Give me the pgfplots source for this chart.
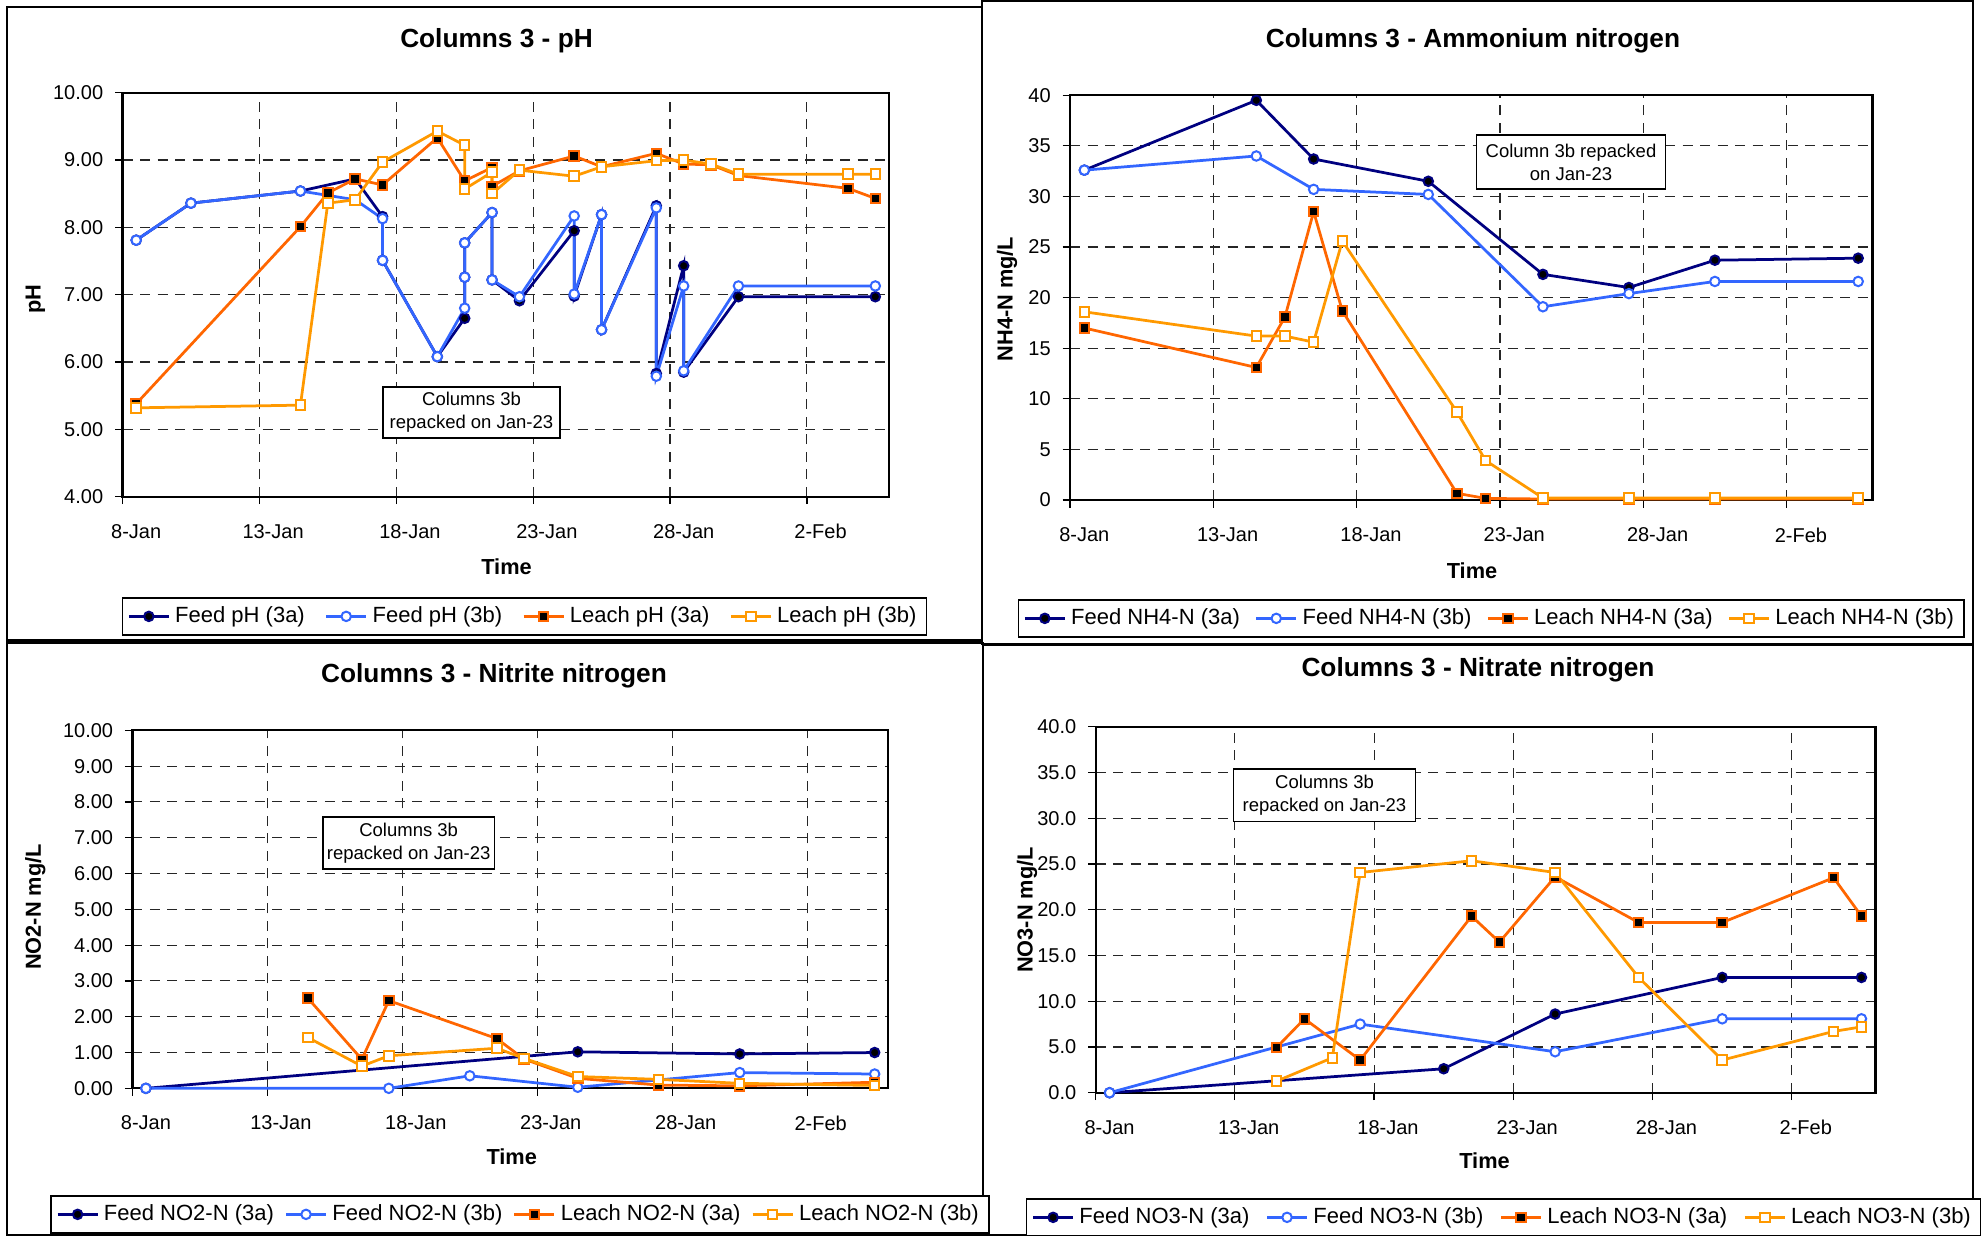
\documentclass[border=0pt]{standalone}
\usepackage{fontspec}
\setmainfont{Liberation Sans}
\usepackage{pgfplots}
\pgfplotsset{compat=1.18}
\definecolor{cnavy}{RGB}{0,0,128}
\definecolor{cblue}{RGB}{51,102,255}
\definecolor{corg}{RGB}{255,102,0}
\definecolor{cyel}{RGB}{255,153,0}
\pgfplotsset{
  panel/.style={
    scale only axis, anchor=south west, clip=false,
    xmin=-0.5, xmax=27.5,
    xtick={-0.5,4.5,9.5,14.5,19.5,24.5},
    xticklabels={8-Jan,13-Jan,18-Jan,23-Jan,28-Jan,2-Feb},
    xmajorgrids, ymajorgrids,
    major grid style={black!85, line width=0.45pt, dash pattern=on 4pt off 3pt},
    axis line style={black, line width=0.9pt},
    major tick style={black, line width=0.5pt},
    tick align=outside, major tick length=3pt,
    xtick pos=bottom, ytick pos=left,
    tick label style={font=\fontsize{8}{9}\selectfont},
    yticklabel style={xshift=-1.2pt},
    /pgf/number format/assume math mode=true,
    legend columns=4, legend cell align=left,
    legend style={draw=black, line width=0.6pt, font=\fontsize{8.8}{10}\selectfont,
      inner xsep=2pt, inner ysep=1.5pt},
    legend image code/.code={
      \draw[mark repeat=2,mark phase=2] plot coordinates {(0pt,0pt) (8pt,0pt) (16pt,0pt)};
    },
    every axis plot/.append style={line width=1.1pt, mark size=1.9pt},
  },
  fA/.style={color=cnavy, mark=*, mark options={fill=black, draw=cnavy, line width=0.8pt, solid}},
  fB/.style={color=cblue, mark=*, mark options={fill=white, draw=cblue, line width=0.8pt, solid}},
  lA/.style={color=corg, mark=square*, mark options={fill=black, draw=corg, line width=0.8pt, solid}},
  lB/.style={color=cyel, mark=square*, mark options={fill=white, draw=cyel, line width=0.8pt, solid}},
}
\begin{document}
\begin{tikzpicture}[x=0.4pt,y=-0.4pt]
\useasboundingbox[fill=white] (0,0) rectangle (1981,1235);
\draw[line width=0.8pt] (7,7) rectangle (982,641);
\draw[line width=1.4pt] (7,641) -- (982,641);
\draw[line width=0.8pt] (982,1) rectangle (1973,644);
\draw[line width=0.8pt] (7,643) rectangle (983,1235);
\draw[line width=0.8pt] (983,645) rectangle (1973,1235);

% ---------- Panel 1: pH ----------
\begin{axis}[panel, at={(49pt,-198.68pt)}, width=306.6pt, height=161.6pt,
  ymin=4, ymax=10, ytick={4,5,6,7,8,9,10},
  yticklabel={\pgfmathprintnumber[fixed,fixed zerofill,precision=2]{\tick}},
  xticklabel style={xshift=5.48pt, yshift=-4.5pt},
  legend style={at={(-0.001,-0.2483)}, anchor=north west,
    /tikz/every even column/.append style={column sep=6pt}}]
\addplot[fA] coordinates {(0,7.81)(2,8.36)(6,8.54)(8,8.72)(9,8.16)(9,7.51)(11,6.08)(12,6.65)(12,7.26)(12,7.77)(13,8.22)(13,7.22)(14,6.91)(16,7.95)(16,6.98)(17,8.19)(17,6.48)(19,8.32)(19,5.83)(20,7.43)(20,5.85)(22,6.97)(27,6.97)};
\addlegendentry{Feed pH (3a)}
\addplot[fB] coordinates {(0,7.81)(2,8.36)(6,8.54)(8,8.41)(9,8.13)(9,7.51)(11,6.08)(12,6.80)(12,7.26)(12,7.77)(13,8.22)(13,7.22)(14,6.97)(16,8.17)(16,7.01)(17,8.19)(17,6.48)(19,8.29)(19,5.79)(20,7.13)(20,5.87)(22,7.13)(27,7.13)};
\addlegendentry{Feed pH (3b)}
\addplot[lA] coordinates {(0,5.38)(6,8.01)(7,8.51)(8,8.72)(9,8.63)(11,9.33)(12,8.69)(13,8.89)(13,8.61)(14,8.84)(16,9.06)(17,8.90)(19,9.10)(20,8.94)(21,8.93)(22,8.77)(26,8.58)(27,8.43)};
\addlegendentry{Leach pH (3a)}
\addplot[lB] coordinates {(0,5.32)(6,5.36)(7,8.36)(8,8.41)(9,8.97)(11,9.43)(12,9.22)(12,8.57)(13,8.82)(13,8.50)(14,8.85)(16,8.76)(17,8.90)(19,8.99)(20,9.00)(21,8.94)(22,8.79)(26,8.79)(27,8.79)};
\addlegendentry{Leach pH (3b)}
\end{axis}

% ---------- Panel 2: NH4 ----------
\begin{axis}[panel, at={(428pt,-200pt)}, width=321pt, height=161.9pt,
  ymin=0, ymax=40, ytick={0,5,...,40},
  xticklabel style={xshift=5.73pt, yshift=-4.5pt},
  legend style={at={(-0.0652,-0.2446)}, anchor=north west,
    /tikz/every even column/.append style={column sep=4pt}}]
\addplot[fA] coordinates {(0,32.6)(6,39.5)(8,33.7)(12,31.5)(16,22.3)(19,21.0)(22,23.7)(27,23.9)};
\addlegendentry{Feed NH4-N (3a)}
\addplot[fB] coordinates {(0,32.6)(6,34.0)(8,30.7)(12,30.2)(16,19.1)(19,20.4)(22,21.6)(27,21.6)};
\addlegendentry{Feed NH4-N (3b)}
\addplot[lA] coordinates {(0,17.0)(6,13.1)(7,18.1)(8,28.5)(9,18.7)(13,0.66)(14,0.16)(16,0.1)(19,0.1)(22,0.1)(27,0.1)};
\addlegendentry{Leach NH4-N (3a)}
\addplot[lB] coordinates {(0,18.6)(6,16.2)(7,16.2)(8,15.6)(9,25.6)(13,8.7)(14,3.9)(16,0.2)(19,0.2)(22,0.2)(27,0.2)};
\addlegendentry{Leach NH4-N (3b)}
\end{axis}

% ---------- Panel 3: NO2 ----------
\begin{axis}[panel, at={(52.96pt,-435.32pt)}, width=302.3pt, height=143.2pt,
  ymin=0, ymax=10, ytick={0,1,...,10},
  yticklabel={\pgfmathprintnumber[fixed,fixed zerofill,precision=2]{\tick}},
  xticklabel style={xshift=5.4pt, yshift=-4.5pt},
  legend style={at={(-0.1084,-0.298)}, anchor=north west,
    /tikz/every even column/.append style={column sep=2.3pt}}]
\addplot[fA] coordinates {(0,0.00)(16,1.02)(22,0.96)(27,1.00)};
\addlegendentry{Feed NO2-N (3a)}
\addplot[fB] coordinates {(0,0)(9,0)(12,0.35)(16,0.03)(22,0.44)(27,0.40)};
\addlegendentry{Feed NO2-N (3b)}
\addplot[lA] coordinates {(6,2.52)(8,0.81)(9,2.45)(13,1.39)(14,0.82)(16,0.28)(19,0.09)(22,0.07)(27,0.17)};
\addlegendentry{Leach NO2-N (3a)}
\addplot[lB] coordinates {(6,1.42)(8,0.62)(9,0.91)(13,1.12)(14,0.84)(16,0.33)(19,0.25)(22,0.14)(27,0.08)};
\addlegendentry{Leach NO2-N (3b)}
\end{axis}

% ---------- Panel 4: NO3 ----------
\begin{axis}[panel, at={(438.24pt,-437.08pt)}, width=311.9pt, height=146.4pt,
  ymin=0, ymax=40, ytick={0,5,...,40},
  yticklabel={\pgfmathprintnumber[fixed,fixed zerofill,precision=1]{\tick}},
  xticklabel style={xshift=5.57pt, yshift=-4.5pt},
  legend style={at={(-0.0893,-0.2876)}, anchor=north west,
    /tikz/every even column/.append style={column sep=4.5pt}}]
\addplot[fA] coordinates {(0,0)(12,2.62)(16,8.6)(22,12.6)(27,12.6)};
\addlegendentry{Feed NO3-N (3a)}
\addplot[fB] coordinates {(0,0)(9,7.5)(16,4.48)(22,8.08)(27,8.08)};
\addlegendentry{Feed NO3-N (3b)}
\addplot[lA] coordinates {(6,4.95)(7,8.08)(9,3.57)(13,19.3)(14,16.46)(16,23.6)(19,18.6)(22,18.6)(26,23.5)(27,19.3)};
\addlegendentry{Leach NO3-N (3a)}
\addplot[lB] coordinates {(6,1.27)(8,3.82)(9,24.07)(13,25.35)(16,24.07)(19,12.6)(22,3.57)(26,6.7)(27,7.2)};
\addlegendentry{Leach NO3-N (3b)}
\end{axis}

% titles and labels
\tikzset{ttl/.style={font=\bfseries\fontsize{10.5}{12}\selectfont},
  lbl/.style={font=\bfseries\fontsize{8.7}{10}\selectfont},
  box/.style={draw=black, line width=0.6pt, fill=white, align=center, inner sep=1pt,
    font=\fontsize{7.4}{9.2}\selectfont}}
\node[ttl] at (496.5,40.4) {Columns 3 - pH};
\node[ttl] at (1473,40.4) {Columns 3 - Ammonium nitrogen};
\node[ttl] at (494,676) {Columns 3 - Nitrite nitrogen};
\node[ttl] at (1478,669.6) {Columns 3 - Nitrate nitrogen};
\node[lbl] at (506.5,566.7) {Time};
\node[lbl] at (1472,571) {Time};
\node[lbl] at (511.7,1157) {Time};
\node[lbl] at (1484.5,1161) {Time};
\node[lbl, rotate=90] at (35.4,299) {pH};
\node[lbl, rotate=90] at (1007,299) {NH4-N mg/L};
\node[lbl, rotate=90] at (35.4,907) {NO2-N mg/L};
\node[lbl, rotate=90] at (1027,910) {NO3-N mg/L};
\node[box, minimum width=70.8pt, minimum height=20.4pt] at (471.5,412.5) {Columns 3b\\repacked on Jan-23};
\node[box, minimum width=75.5pt, minimum height=21.6pt] at (1571,162) {Column 3b repacked\\on Jan-23};
\node[box, minimum width=68.6pt, minimum height=20.9pt] at (408.7,842.9) {Columns 3b\\repacked on Jan-23};
\node[box, minimum width=72.7pt, minimum height=20.9pt] at (1324.5,795.2) {Columns 3b\\repacked on Jan-23};
\end{tikzpicture}
\end{document}
